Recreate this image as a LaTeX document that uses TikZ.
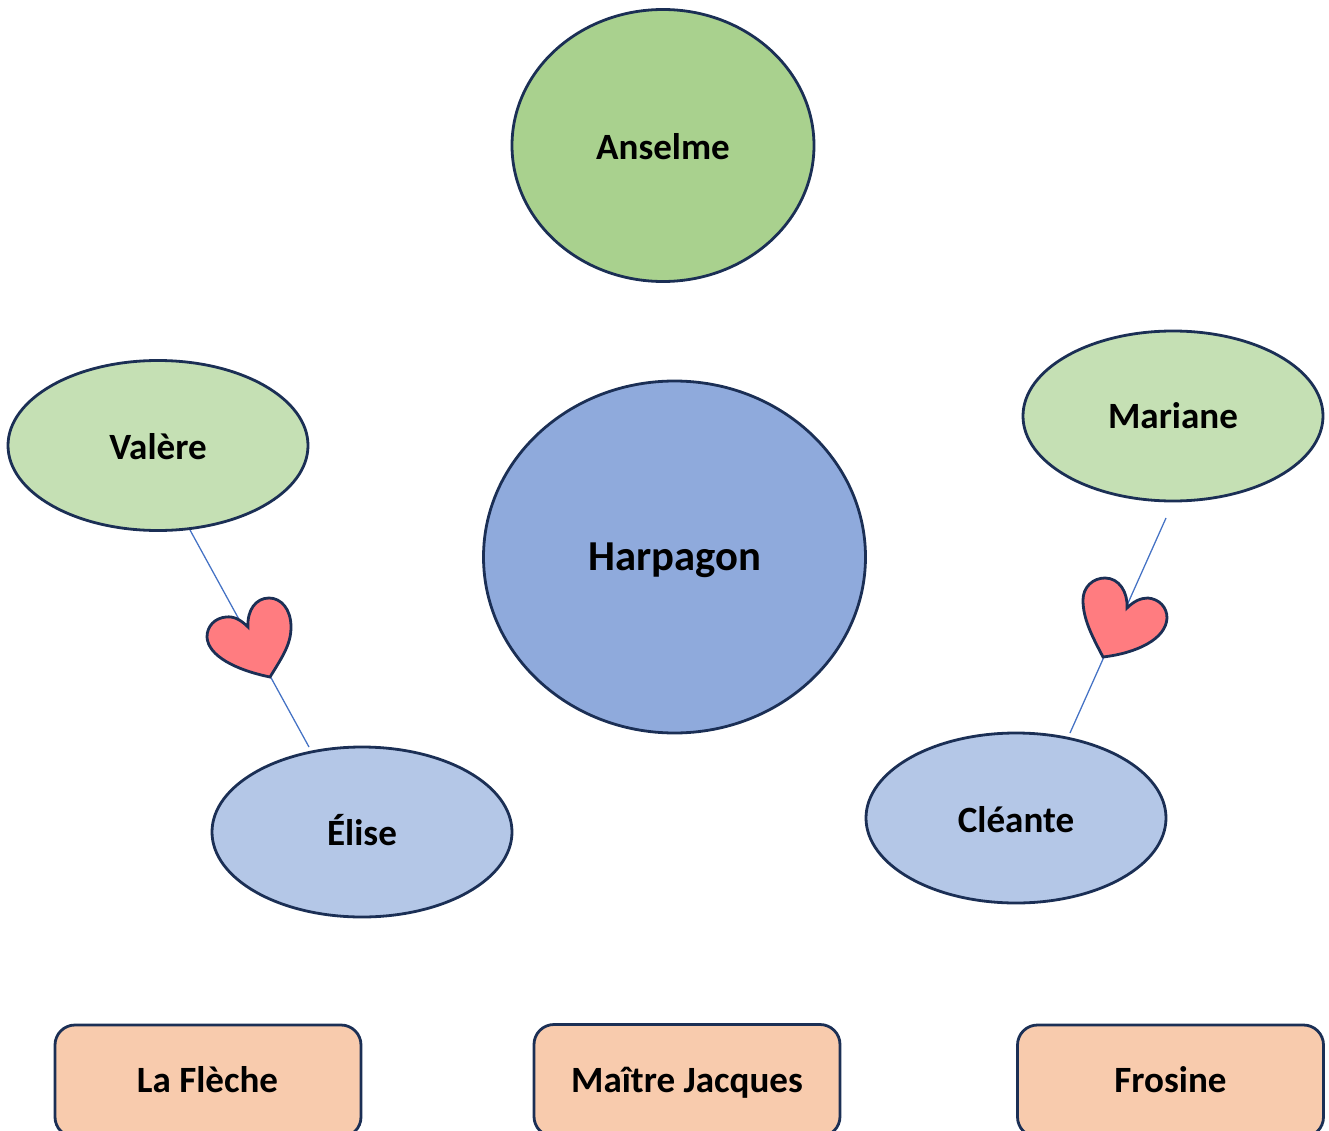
\documentclass[tikz,border=0pt]{standalone}
\usepackage{fontspec}
\setmainfont{Carlito}
\usetikzlibrary{shapes.geometric}
\definecolor{edgeblue}{HTML}{1B2F55}
\definecolor{linkblue}{HTML}{4472C4}
\definecolor{heartred}{HTML}{FF7C80}
\definecolor{greenA}{HTML}{A9D18E}
\definecolor{greenB}{HTML}{C5E0B4}
\definecolor{blueA}{HTML}{8FAADC}
\definecolor{blueB}{HTML}{B4C7E7}
\definecolor{peach}{HTML}{F8CBAD}
\tikzset{
  x=0.75pt,y=-0.75pt,
  person/.style={draw=edgeblue,line width=2.1pt,shape=ellipse,inner sep=0pt,outer sep=0pt},
  small/.style={person,minimum width=225pt,minimum height=127.5pt},
  staff/.style={draw=edgeblue,line width=2.1pt,fill=peach,rounded corners=15pt,minimum width=229.5pt,minimum height=84pt,inner sep=0pt,outer sep=0pt},
  namelabel/.style={anchor=base,inner sep=0pt,text=black,font=\bfseries\fontsize{27.8}{32}\selectfont},
  biglabel/.style={namelabel,font=\bfseries\fontsize{32}{38}\selectfont},
  heart/.style={draw=edgeblue,line width=2.1pt,fill=heartred,line join=miter},
  link/.style={draw=linkblue,line width=0.95pt}
}
\begin{document}
\begin{tikzpicture}
\useasboundingbox (0,0) rectangle (1329,1131);
\clip (0,0) rectangle (1329,1131);
\coordinate (va) at (190,530);
\coordinate (el) at (309,747);
\coordinate (ma) at (1166,518);
\coordinate (cl) at (1070,733);
\draw[link] (va) -- (el);
\draw[link] (ma) -- (cl);
\node[person,fill=greenA,minimum width=226.5pt,minimum height=204pt] (anselme) at (663,145.5) {};
\node[namelabel] at (663,159.5) {Anselme};
\node[person,fill=blueA,minimum width=286.5pt,minimum height=264pt] (harpagon) at (674.5,557) {};
\node[biglabel] at (674.5,570) {Harpagon};
\node[small,fill=greenB] (valere) at (158,445.5) {};
\node[namelabel] at (158,459) {Valère};
\node[small,fill=greenB] (mariane) at (1173,416) {};
\node[namelabel] at (1173,428.5) {Mariane};
\node[small,fill=blueB] (elise) at (362,832) {};
\node[namelabel] at (362,845.5) {Élise};
\node[small,fill=blueB] (cleante) at (1016,818) {};
\node[namelabel] at (1016,832) {Cléante};
\node[staff,anchor=north west] (lafleche) at (55,1025) {};
\node[namelabel] at (207.5,1092) {La Flèche};
\node[staff,anchor=north west] (jacques) at (534,1024.5) {};
\node[namelabel] at (687,1092) {Maître Jacques};
\node[staff,anchor=north west] (frosine) at (1017.5,1025) {};
\node[namelabel] at (1170.5,1092) {Frosine};
\draw[heart] (270,677) .. controls (283,656) and (291,644) .. (291,627)
  .. controls (291,609) and (281,598) .. (269,598)
  .. controls (256,598) and (247,610) .. (248,627)
  .. controls (241,620) and (234,616) .. (226,617)
  .. controls (215,618) and (207,626) .. (207,637)
  .. controls (208,656) and (236,670) .. (270,677) -- cycle;
\draw[heart] (1103,657) .. controls (1092,636) and (1083,619) .. (1083,600)
  .. controls (1083,587) and (1093,578) .. (1105,578)
  .. controls (1119,578) and (1128,592) .. (1127,608)
  .. controls (1134,601) and (1141,598) .. (1148,598)
  .. controls (1159,599) and (1167,607) .. (1167,618)
  .. controls (1166,639) and (1137,653) .. (1103,657) -- cycle;
\end{tikzpicture}
\end{document}
